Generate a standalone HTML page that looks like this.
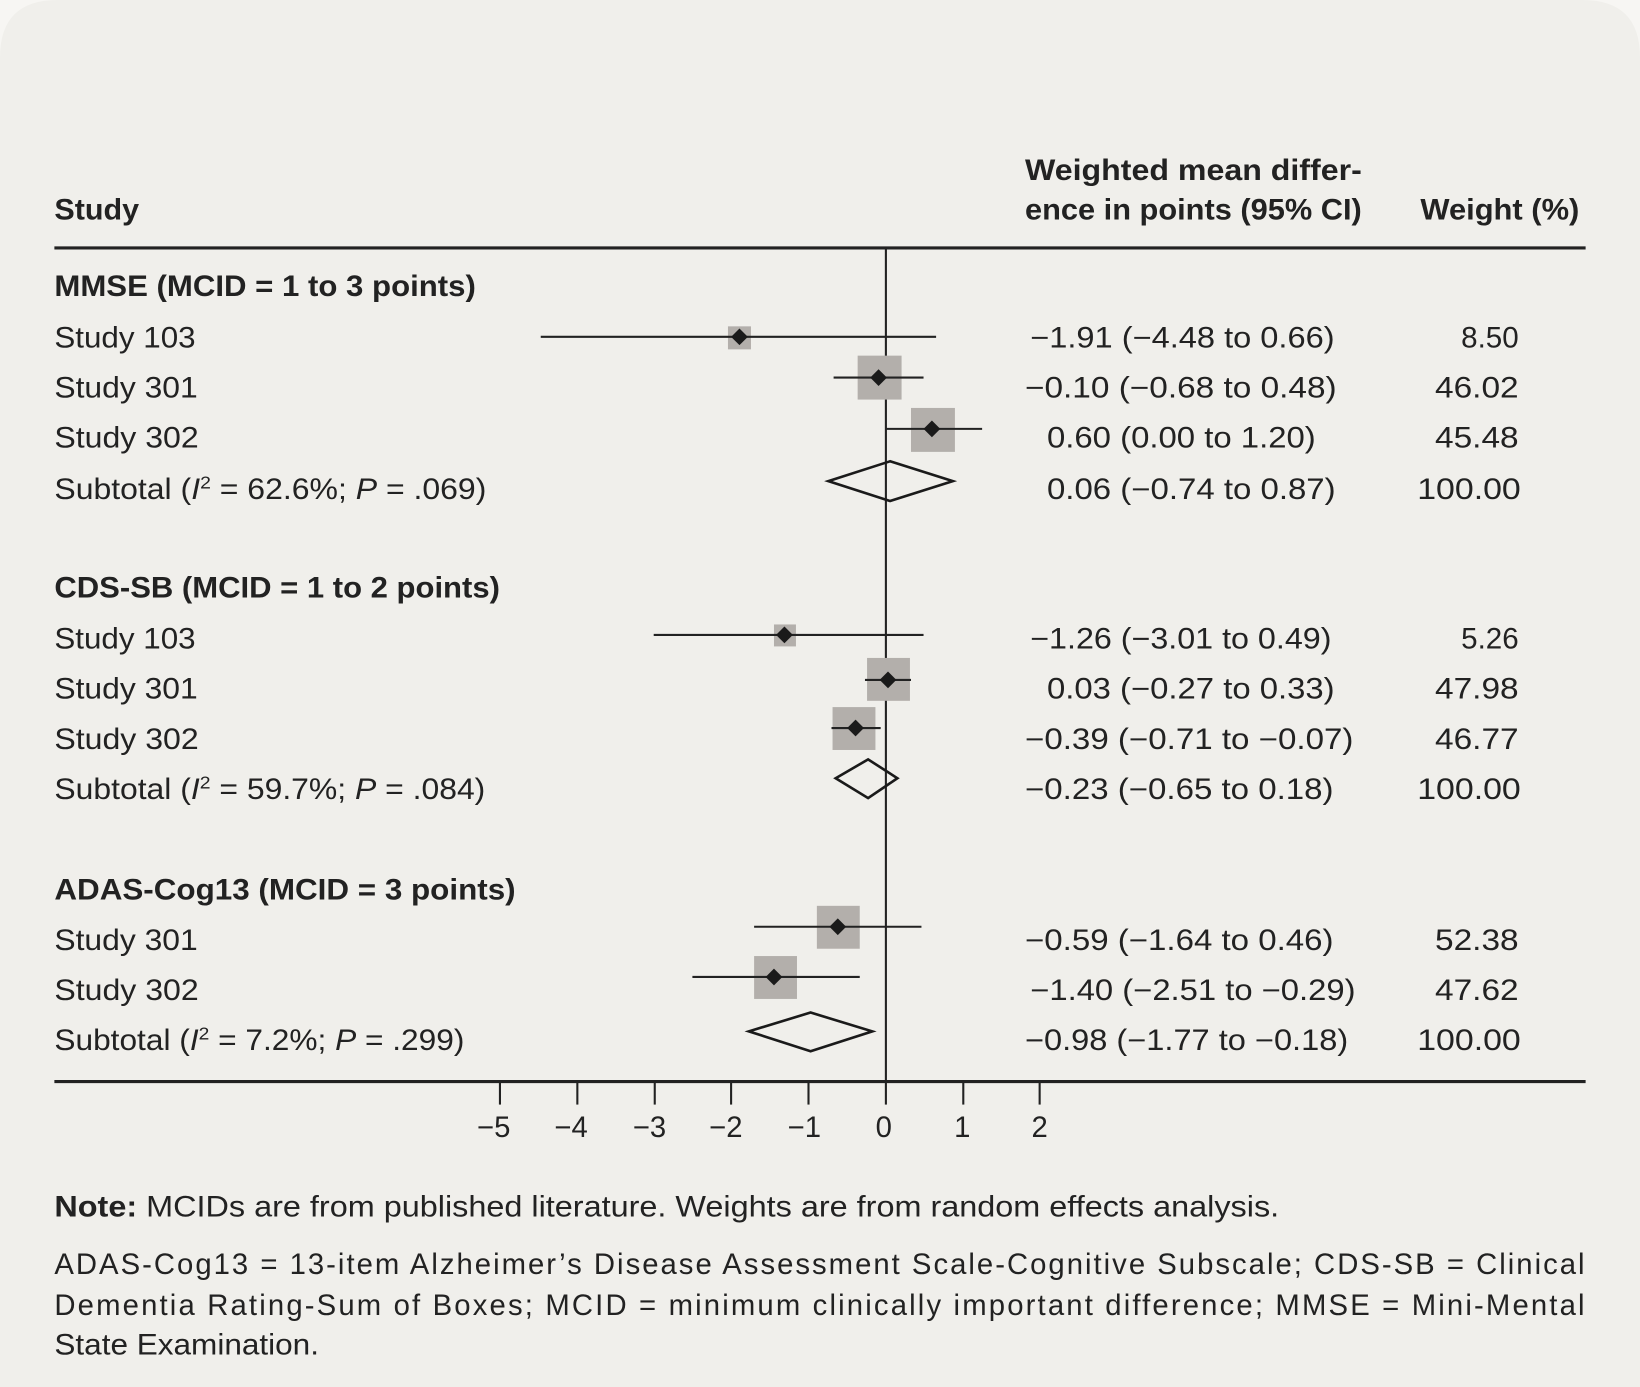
<!DOCTYPE html>
<html><head><meta charset="utf-8"><style>
html,body{margin:0;padding:0;background:#f7f6f3;overflow:hidden;width:1640px;height:1387px;}
svg{display:block}
text{font-family:"Liberation Sans",sans-serif;fill:#222;font-size:28px;}
.b{font-weight:bold;}
</style></head><body>
<svg width="1640" height="1387" viewBox="0 0 1568 1326" preserveAspectRatio="none">
<rect x="0" y="0" width="1568" height="1326" fill="#f7f6f3"/>
<path d="M0 55 Q0 0 55 0 L1513 0 Q1568 0 1568 55 L1568 1326 L0 1326Z" fill="#f0efeb"/>
<text class="b" x="52" y="210" textLength="81" lengthAdjust="spacingAndGlyphs">Study</text>
<text class="b" x="980" y="172" textLength="322" lengthAdjust="spacingAndGlyphs">Weighted mean differ-</text>
<text class="b" x="980" y="210" textLength="322" lengthAdjust="spacingAndGlyphs">ence in points (95% CI)</text>
<text class="b" x="1358" y="210" textLength="152" lengthAdjust="spacingAndGlyphs">Weight (%)</text>
<line x1="52" y1="237" x2="1516" y2="237" stroke="#222" stroke-width="3"/>
<line x1="847" y1="237" x2="847" y2="1034" stroke="#222" stroke-width="2"/>
<line x1="52" y1="1034" x2="1516" y2="1034" stroke="#222" stroke-width="3"/>
<g stroke="#222" stroke-width="2">
<line x1="478" y1="1034" x2="478" y2="1056"/><line x1="552" y1="1034" x2="552" y2="1056"/>
<line x1="626" y1="1034" x2="626" y2="1056"/><line x1="699" y1="1034" x2="699" y2="1056"/>
<line x1="773" y1="1034" x2="773" y2="1056"/><line x1="847" y1="1034" x2="847" y2="1056"/>
<line x1="921" y1="1034" x2="921" y2="1056"/><line x1="994" y1="1034" x2="994" y2="1056"/>
</g>
<g text-anchor="middle">
<text x="472" y="1087">−5</text><text x="546" y="1087">−4</text><text x="621" y="1087">−3</text>
<text x="694" y="1087">−2</text><text x="769" y="1087">−1</text><text x="845" y="1087">0</text>
<text x="920" y="1087">1</text><text x="994" y="1087">2</text>
</g>
<text class="b" x="52" y="283" textLength="403" lengthAdjust="spacingAndGlyphs">MMSE (MCID = 1 to 3 points)</text>
<text x="52" y="332" textLength="135" lengthAdjust="spacingAndGlyphs">Study 103</text>
<text x="52" y="380" textLength="137" lengthAdjust="spacingAndGlyphs">Study 301</text>
<text x="52" y="428" textLength="138" lengthAdjust="spacingAndGlyphs">Study 302</text>
<text x="52" y="477" textLength="413" lengthAdjust="spacingAndGlyphs">Subtotal (<tspan font-style="italic">I</tspan><tspan font-size="17" dy="-10">2</tspan><tspan dy="10"> = 62.6%; </tspan><tspan font-style="italic">P</tspan> = .069)</text>
<text class="b" x="52" y="571" textLength="426" lengthAdjust="spacingAndGlyphs">CDS-SB (MCID = 1 to 2 points)</text>
<text x="52" y="620" textLength="135" lengthAdjust="spacingAndGlyphs">Study 103</text>
<text x="52" y="668" textLength="137" lengthAdjust="spacingAndGlyphs">Study 301</text>
<text x="52" y="716" textLength="138" lengthAdjust="spacingAndGlyphs">Study 302</text>
<text x="52" y="764" textLength="412" lengthAdjust="spacingAndGlyphs">Subtotal (<tspan font-style="italic">I</tspan><tspan font-size="17" dy="-10">2</tspan><tspan dy="10"> = 59.7%; </tspan><tspan font-style="italic">P</tspan> = .084)</text>
<text class="b" x="52" y="860" textLength="441" lengthAdjust="spacingAndGlyphs">ADAS-Cog13 (MCID = 3 points)</text>
<text x="52" y="908" textLength="137" lengthAdjust="spacingAndGlyphs">Study 301</text>
<text x="52" y="956" textLength="138" lengthAdjust="spacingAndGlyphs">Study 302</text>
<text x="52" y="1004" textLength="392" lengthAdjust="spacingAndGlyphs">Subtotal (<tspan font-style="italic">I</tspan><tspan font-size="17" dy="-10">2</tspan><tspan dy="10"> = 7.2%; </tspan><tspan font-style="italic">P</tspan> = .299)</text>
<text x="985" y="332" textLength="291" lengthAdjust="spacingAndGlyphs">−1.91 (−4.48 to 0.66)</text>
<text x="980" y="380" textLength="298" lengthAdjust="spacingAndGlyphs">−0.10 (−0.68 to 0.48)</text>
<text x="1001" y="428" textLength="257" lengthAdjust="spacingAndGlyphs">0.60 (0.00 to 1.20)</text>
<text x="1001" y="477" textLength="276" lengthAdjust="spacingAndGlyphs">0.06 (−0.74 to 0.87)</text>
<text x="985" y="620" textLength="288" lengthAdjust="spacingAndGlyphs">−1.26 (−3.01 to 0.49)</text>
<text x="1001" y="668" textLength="275" lengthAdjust="spacingAndGlyphs">0.03 (−0.27 to 0.33)</text>
<text x="980" y="716" textLength="314" lengthAdjust="spacingAndGlyphs">−0.39 (−0.71 to −0.07)</text>
<text x="980" y="764" textLength="295" lengthAdjust="spacingAndGlyphs">−0.23 (−0.65 to 0.18)</text>
<text x="980" y="908" textLength="295" lengthAdjust="spacingAndGlyphs">−0.59 (−1.64 to 0.46)</text>
<text x="985" y="956" textLength="311" lengthAdjust="spacingAndGlyphs">−1.40 (−2.51 to −0.29)</text>
<text x="980" y="1004" textLength="309" lengthAdjust="spacingAndGlyphs">−0.98 (−1.77 to −0.18)</text>
<text x="1397" y="332" textLength="55" lengthAdjust="spacingAndGlyphs">8.50</text>
<text x="1372" y="380" textLength="80" lengthAdjust="spacingAndGlyphs">46.02</text>
<text x="1372" y="428" textLength="80" lengthAdjust="spacingAndGlyphs">45.48</text>
<text x="1355" y="477" textLength="99" lengthAdjust="spacingAndGlyphs">100.00</text>
<text x="1397" y="620" textLength="55" lengthAdjust="spacingAndGlyphs">5.26</text>
<text x="1372" y="668" textLength="80" lengthAdjust="spacingAndGlyphs">47.98</text>
<text x="1372" y="716" textLength="80" lengthAdjust="spacingAndGlyphs">46.77</text>
<text x="1355" y="764" textLength="99" lengthAdjust="spacingAndGlyphs">100.00</text>
<text x="1372" y="908" textLength="80" lengthAdjust="spacingAndGlyphs">52.38</text>
<text x="1372" y="956" textLength="80" lengthAdjust="spacingAndGlyphs">47.62</text>
<text x="1355" y="1004" textLength="99" lengthAdjust="spacingAndGlyphs">100.00</text>
<g fill="#b3afab">
<rect x="696" y="312" width="22" height="22"/>
<rect x="820" y="340" width="42" height="42"/>
<rect x="871" y="390" width="42" height="42"/>
<rect x="740" y="597" width="21" height="21"/>
<rect x="829" y="629" width="41" height="41"/>
<rect x="796" y="676" width="41" height="41"/>
<rect x="781" y="866" width="41" height="41"/>
<rect x="721" y="914" width="41" height="41"/>
</g>
<g stroke="#222" stroke-width="2">
<line x1="517" y1="322" x2="895" y2="322"/>
<line x1="797" y1="361" x2="883" y2="361"/>
<line x1="847" y1="410" x2="939" y2="410"/>
<line x1="625" y1="607" x2="883" y2="607"/>
<line x1="827" y1="650" x2="871" y2="650"/>
<line x1="795" y1="696" x2="842" y2="696"/>
<line x1="721" y1="886" x2="881" y2="886"/>
<line x1="662" y1="934" x2="822" y2="934"/>
</g>
<g fill="#1a1a1a">
<path d="M707 314 L715 322 L707 330 L699 322Z"/>
<path d="M840 353 L848 361 L840 369 L832 361Z"/>
<path d="M891 402 L899 410 L891 418 L883 410Z"/>
<path d="M750 599 L758 607 L750 615 L742 607Z"/>
<path d="M849 642 L857 650 L849 658 L841 650Z"/>
<path d="M818 688 L826 696 L818 704 L810 696Z"/>
<path d="M801 878 L809 886 L801 894 L793 886Z"/>
<path d="M740 926 L748 934 L740 942 L732 934Z"/>
</g>
<g fill="none" stroke="#1a1a1a" stroke-width="2.5">
<path d="M792 460 L851 441 L911 460 L851 479Z"/>
<path d="M799 744 L830 726 L858 744 L830 763Z"/>
<path d="M716 986 L775 968 L834 986 L775 1005Z"/>
</g>
<text x="52" y="1163" textLength="1171" lengthAdjust="spacingAndGlyphs"><tspan class="b">Note:</tspan> MCIDs are from published literature. Weights are from random effects analysis.</text>
<text x="52" y="1218" textLength="1463" lengthAdjust="spacing">ADAS-Cog13 = 13-item Alzheimer’s Disease Assessment Scale-Cognitive Subscale; CDS-SB = Clinical</text>
<text x="52" y="1257" textLength="1463" lengthAdjust="spacing">Dementia Rating-Sum of Boxes; MCID = minimum clinically important difference; MMSE = Mini-Mental</text>
<text x="52" y="1295" textLength="253" lengthAdjust="spacingAndGlyphs">State Examination.</text>
</svg>
</body></html>
